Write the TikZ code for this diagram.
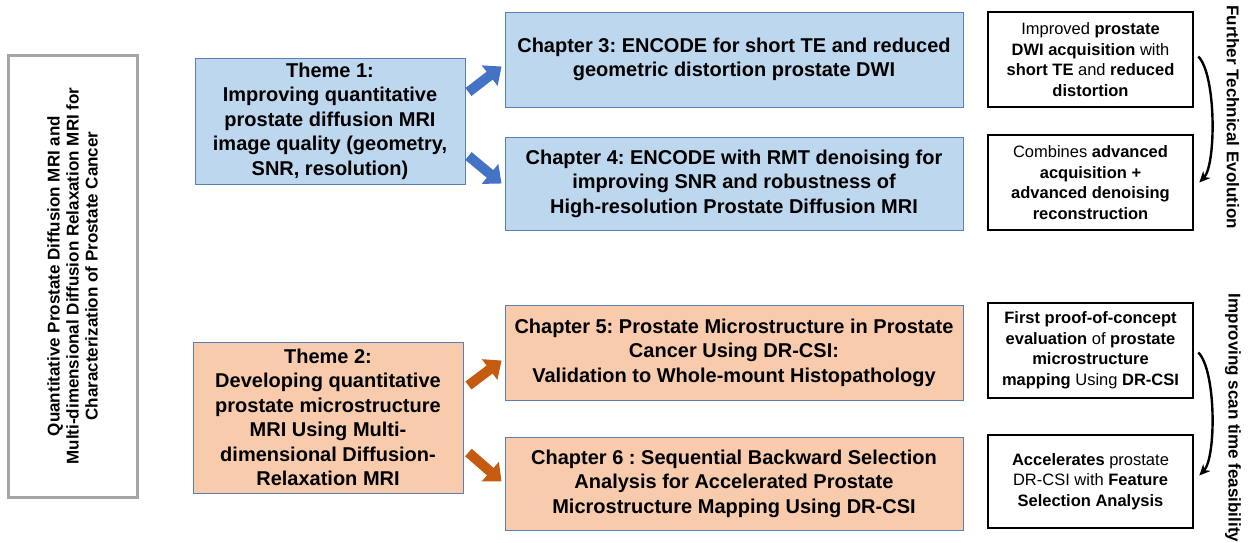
\documentclass[tikz,border=0pt]{standalone}
\usepackage{fontspec}
\setmainfont{Liberation Sans}
\frenchspacing
\usetikzlibrary{arrows.meta,calc}
\definecolor{bluefill}{HTML}{BDD7EE}
\definecolor{orangefill}{HTML}{F8CBAD}
\definecolor{boxedge}{HTML}{5A7FB5}
\definecolor{bluearrow}{HTML}{4472C4}
\definecolor{orangearrow}{HTML}{C55A11}
\definecolor{grayedge}{HTML}{A6A6A6}
\tikzset{
  bluebox/.style={draw=boxedge, line width=0.9pt, fill=bluefill, align=center, inner sep=0pt,
    font=\fontsize{20}{24.5}\selectfont\bfseries},
  orangebox/.style={draw=boxedge, line width=0.9pt, fill=orangefill, align=center, inner sep=0pt,
    font=\fontsize{20}{24.5}\selectfont\bfseries},
  notebox/.style={draw=black, line width=2.6pt, fill=white, align=center, inner sep=0pt,
    minimum width=205pt, font=\fontsize{16.5}{20.5}\selectfont},
  blockarrow/.style={line width=10pt, -{Triangle[length=15pt,width=25pt]}},
  evoarrow/.style={draw=black, line width=2.4pt, -{Stealth[length=11pt,width=10pt]}},
  sidetext/.style={rotate=-90, font=\fontsize{17}{20}\selectfont\bfseries, inner sep=0pt}
}
\begin{document}
\begin{tikzpicture}[x=1pt,y=-1pt]
\path[use as bounding box] (0,0) rectangle (1253,542);

% main title box
\node[draw=grayedge, line width=3pt, minimum width=129pt, minimum height=442pt, inner sep=0pt] (main) at (72.5,276) {};
\node[rotate=90, align=center, font=\fontsize{17}{19}\selectfont\bfseries] (maintxt) at (main.center)
 {Quantitative Prostate Diffusion MRI and\\Multi-dimensional Diffusion Relaxation MRI for\\Characterization of Prostate Cancer};

% themes
\node[bluebox, minimum width=270pt, minimum height=126pt] (t1) at (330,121)
 {Theme 1:\\Improving quantitative\\prostate diffusion MRI\\image quality (geometry,\\SNR, resolution)};
\node[orangebox, minimum width=270pt, minimum height=151pt] (t2) at (328,417.5)
 {Theme 2:\\Developing quantitative\\prostate microstructure\\MRI Using Multi-\\dimensional Diffusion-\\Relaxation MRI};

% chapters
\node[bluebox, minimum width=458pt, minimum height=95pt] (c3) at (734,59.5)
 {Chapter 3: ENCODE for short TE and reduced\\geometric distortion prostate DWI};
\node[bluebox, minimum width=458pt, minimum height=93pt] (c4) at (734,183.5)
 {Chapter 4: ENCODE with RMT denoising for\\improving SNR and robustness of\\High-resolution Prostate Diffusion MRI};
\node[orangebox, minimum width=458pt, minimum height=95pt] (c5) at (734,352.5)
 {Chapter 5: Prostate Microstructure in Prostate\\Cancer Using DR-CSI:\\Validation to Whole-mount Histopathology};
\node[orangebox, minimum width=458pt, minimum height=93pt] (c6) at (734,483.5)
 {Chapter 6 : Sequential Backward Selection\\Analysis for Accelerated Prostate\\Microstructure Mapping Using DR-CSI};

% block arrows
\draw[blockarrow, bluearrow] ($(t1.east)+(3,-29)$) -- ($(c3.west)+(-3,7)$);
\draw[blockarrow, bluearrow] ($(t1.east)+(3,35)$) -- ($(c4.west)+(-3,0)$);
\draw[blockarrow, orangearrow] ($(t2.east)+(5,-32)$) -- ($(c5.west)+(-3,8)$);
\draw[blockarrow, orangearrow] ($(t2.east)+(5,35)$) -- ($(c6.west)+(-3,-2)$);

% outcome boxes
\node[notebox, minimum height=95pt] (oa) at (1090.5,59.5)
 {Improved \textbf{prostate}\\\textbf{DWI acquisition} with\\\textbf{short TE} and \textbf{reduced}\\\textbf{distortion}};
\node[notebox, minimum height=95pt] (ob) at (1090.5,182.5)
 {Combines \textbf{advanced}\\\textbf{acquisition +}\\\textbf{advanced denoising}\\\textbf{reconstruction}};
\node[notebox, minimum height=95pt] (oc) at (1090.5,350.5)
 {\textbf{First proof-of-concept}\\\textbf{evaluation} of \textbf{prostate}\\\textbf{microstructure}\\\textbf{mapping} Using \textbf{DR-CSI}};
\node[notebox, minimum height=93pt] (od) at (1090.5,481.5)
 {\textbf{Accelerates} prostate\\DR-CSI with \textbf{Feature}\\\textbf{Selection Analysis}};

% evolution arrows
\draw[evoarrow] ($(oa.east)+(4,-3)$) .. controls ($(oa.east)+(22,15)$) and ($(ob.east)+(22,-18)$) .. ($(ob.east)+(5,0)$);
\draw[evoarrow] ($(oc.east)+(4,2)$) .. controls ($(oc.east)+(22,20)$) and ($(od.east)+(22,-24)$) .. ($(od.east)+(5,-6)$);

% side labels
\node[sidetext] (s1) at (1233,117) {Further Technical Evolution};
\node[sidetext] (s2) at (1233,418) {Improving scan time feasibility};
\end{tikzpicture}
\end{document}
